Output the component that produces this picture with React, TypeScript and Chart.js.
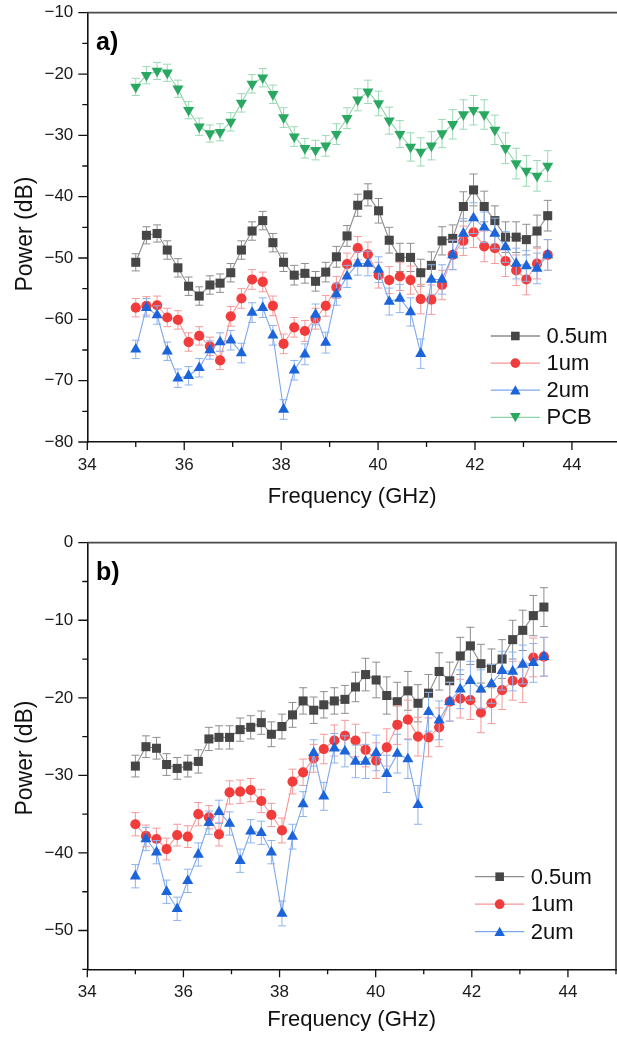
import React, { useEffect, useRef } from 'react';
import { Chart, registerables } from 'chart.js';

Chart.register(...registerables);

// ---------------- data ----------------
const FREQ = [35.0, 35.22, 35.44, 35.65, 35.87, 36.09, 36.31, 36.53, 36.74, 36.96, 37.18, 37.4, 37.62, 37.83, 38.05, 38.27, 38.49, 38.71, 38.92, 39.14, 39.36, 39.58, 39.79, 40.01, 40.23, 40.45, 40.67, 40.88, 41.1, 41.32, 41.54, 41.76, 41.97, 42.19, 42.41, 42.63, 42.85, 43.06, 43.28, 43.5];

const X_TICKS = [34, 35, 36, 37, 38, 39, 40, 41, 42, 43, 44, 45];

// panel a)
const A_05UM = [-50.7, -46.3, -46.0, -48.7, -51.6, -54.6, -56.2, -54.4, -54.1, -52.4, -48.7, -45.6, -43.9, -47.5, -50.7, -52.8, -52.5, -53.8, -52.3, -49.8, -46.4, -41.4, -39.7, -42.3, -47.1, -49.9, -49.9, -52.4, -51.2, -47.2, -46.8, -41.6, -38.9, -41.6, -43.9, -46.6, -46.6, -47.0, -45.6, -43.1];
const A_05UM_ERR = [1.4, 1.4, 1.4, 1.5, 1.5, 1.5, 1.5, 1.5, 1.5, 1.5, 1.5, 1.5, 1.5, 1.5, 1.5, 1.6, 1.6, 1.6, 1.6, 1.7, 1.7, 1.8, 1.8, 2.0, 2.1, 2.3, 2.3, 2.2, 2.2, 2.3, 2.2, 2.4, 2.6, 2.5, 2.4, 2.5, 2.5, 2.5, 2.6, 2.5];
const A_1UM = [-58.1, -57.8, -57.7, -59.7, -60.1, -63.7, -62.7, -64.4, -66.7, -59.5, -56.6, -53.5, -53.9, -57.8, -64.0, -61.3, -61.9, -59.9, -57.8, -54.8, -51.0, -48.4, -49.4, -52.8, -53.6, -53.0, -53.6, -56.7, -56.8, -54.4, -49.5, -47.2, -45.8, -48.1, -48.4, -50.5, -52.0, -53.5, -50.9, -49.5];
const A_1UM_ERR = [1.5, 1.5, 1.5, 1.5, 1.5, 1.5, 1.5, 1.5, 1.5, 1.6, 1.6, 1.6, 1.6, 1.6, 1.6, 1.6, 1.7, 1.7, 1.7, 1.8, 1.8, 1.9, 2.0, 2.1, 2.2, 2.3, 2.3, 2.4, 2.4, 2.4, 2.4, 2.4, 2.5, 2.5, 2.5, 2.5, 2.5, 2.5, 2.5, 2.5];
const A_2UM = [-64.9, -58.1, -59.3, -65.2, -69.6, -69.2, -67.9, -65.0, -63.7, -63.4, -65.5, -58.9, -58.1, -62.6, -74.7, -68.3, -65.7, -59.2, -63.8, -55.9, -53.0, -50.9, -50.9, -51.9, -57.1, -56.6, -58.8, -65.6, -53.5, -53.5, -49.5, -46.0, -43.5, -45.0, -46.0, -48.2, -50.9, -51.3, -51.7, -49.5];
const A_2UM_ERR = [1.5, 1.5, 1.5, 1.5, 1.5, 1.5, 1.5, 1.5, 1.5, 1.6, 1.6, 1.6, 1.6, 1.6, 1.6, 1.6, 1.7, 1.7, 1.7, 1.8, 1.8, 1.9, 2.0, 2.1, 2.2, 2.3, 2.3, 2.4, 2.4, 2.4, 2.4, 2.4, 2.5, 2.5, 2.5, 2.5, 2.5, 2.5, 2.5, 2.5];
const A_PCB = [-22.1, -20.2, -19.5, -19.8, -22.4, -25.9, -28.6, -29.7, -29.5, -27.8, -24.7, -21.6, -20.6, -23.3, -27.1, -30.2, -32.1, -32.4, -31.7, -29.8, -27.2, -24.2, -22.9, -24.8, -27.6, -29.8, -31.9, -32.7, -31.7, -29.7, -28.2, -26.6, -25.9, -26.6, -29.1, -32.1, -34.6, -35.8, -36.6, -35.0];
const A_PCB_ERR = [1.4, 1.4, 1.4, 1.4, 1.4, 1.4, 1.4, 1.4, 1.4, 1.5, 1.5, 1.5, 1.5, 1.5, 1.6, 1.6, 1.6, 1.6, 1.7, 1.7, 1.7, 1.8, 1.9, 2.0, 2.2, 2.2, 2.3, 2.3, 2.3, 2.3, 2.4, 2.4, 2.4, 2.4, 2.4, 2.5, 2.5, 2.5, 2.5, 2.5];

// panel b)
const B_05UM = [-28.8, -26.3, -26.5, -28.6, -29.1, -28.8, -28.2, -25.3, -25.1, -25.1, -24.1, -23.8, -23.2, -24.7, -23.7, -22.2, -20.4, -21.6, -20.9, -20.4, -20.2, -18.6, -17.0, -17.7, -19.7, -20.5, -19.1, -20.7, -19.4, -16.6, -17.8, -14.6, -13.3, -15.6, -16.2, -15.0, -12.5, -11.3, -9.4, -8.3];
const B_05UM_ERR = [1.4, 1.4, 1.4, 1.4, 1.4, 1.4, 1.5, 1.5, 1.5, 1.5, 1.5, 1.5, 1.5, 1.6, 1.6, 1.6, 1.7, 1.7, 1.7, 1.7, 1.8, 1.9, 2.1, 2.3, 2.4, 2.5, 2.5, 2.4, 2.4, 2.4, 2.4, 2.4, 2.4, 2.5, 2.5, 2.5, 2.5, 2.6, 2.6, 2.5];
const B_1UM = [-36.3, -37.8, -38.2, -39.5, -37.7, -37.9, -35.0, -35.4, -37.6, -32.2, -32.1, -31.9, -33.3, -35.1, -37.1, -30.8, -29.6, -27.8, -26.6, -25.5, -24.9, -25.5, -26.7, -28.1, -26.4, -23.5, -22.8, -25.0, -25.1, -23.8, -20.5, -20.1, -20.3, -21.9, -20.7, -19.0, -17.8, -18.0, -14.8, -14.7];
const B_1UM_ERR = [1.5, 1.4, 1.4, 1.4, 1.4, 1.4, 1.5, 1.5, 1.5, 1.5, 1.5, 1.5, 1.5, 1.5, 1.6, 1.6, 1.7, 1.8, 1.9, 2.0, 2.0, 2.1, 2.2, 2.3, 2.4, 2.5, 2.5, 2.5, 2.5, 2.5, 2.5, 2.5, 2.5, 2.6, 2.6, 2.5, 2.5, 2.6, 2.5, 2.5];
const B_2UM = [-43.0, -38.2, -39.9, -45.0, -47.2, -43.6, -40.2, -36.1, -34.7, -36.2, -41.0, -37.2, -37.4, -39.9, -47.8, -37.9, -33.7, -27.1, -32.7, -26.5, -26.9, -28.2, -28.2, -27.1, -29.8, -27.2, -27.9, -33.8, -21.8, -22.9, -20.5, -18.9, -17.8, -18.9, -18.2, -16.5, -16.6, -15.7, -15.5, -14.7];
const B_2UM_ERR = [1.5, 1.5, 1.5, 1.5, 1.5, 1.5, 1.5, 1.5, 1.5, 1.5, 1.5, 1.5, 1.5, 1.5, 1.6, 1.6, 1.6, 1.7, 1.8, 1.9, 2.0, 2.1, 2.2, 2.3, 2.4, 2.5, 2.5, 2.5, 2.5, 2.5, 2.5, 2.5, 2.5, 2.5, 2.5, 2.5, 2.5, 2.5, 2.5, 2.5];

// ---------------- styles ----------------
const FONT = '"Liberation Sans", Arial, Helvetica, sans-serif';

const STYLE_05 = { label: '0.5um', marker: 'rect', rotation: 0, radius: 6.4, color: '#464646', line: '#8e8e8e', err: '#8e8e8e' };
const STYLE_1 = { label: '1um', marker: 'circle', rotation: 0, radius: 5.1, color: '#f23b3b', line: '#f59797', err: '#f59a9a' };
const STYLE_2 = { label: '2um', marker: 'triangle', rotation: 0, radius: 6.4, color: '#1b64d9', line: '#7ea8ec', err: '#8db3ee' };
const STYLE_PCB = { label: 'PCB', marker: 'triangle', rotation: 180, radius: 6.4, color: '#2aa862', line: '#8fd3aa', err: '#9ad9b4' };

function drawMarker(ctx, style, rotationDeg, x, y, r, color) {
  ctx.save();
  ctx.fillStyle = color;
  ctx.beginPath();
  if (style === 'circle') {
    ctx.arc(x, y, r, 0, Math.PI * 2);
  } else if (style === 'rect') {
    const s = r * Math.SQRT1_2;
    ctx.rect(x - s, y - s, 2 * s, 2 * s);
  } else {
    let rad = (rotationDeg * Math.PI) / 180;
    ctx.moveTo(x + Math.sin(rad) * r, y - Math.cos(rad) * r);
    rad += (2 * Math.PI) / 3;
    ctx.lineTo(x + Math.sin(rad) * r, y - Math.cos(rad) * r);
    rad += (2 * Math.PI) / 3;
    ctx.lineTo(x + Math.sin(rad) * r, y - Math.cos(rad) * r);
    ctx.closePath();
  }
  ctx.fill();
  ctx.restore();
}

function minusLabel(v) {
  if (v === 0) return '0';
  return v < 0 ? '\u2212' + Math.abs(v) : String(v);
}

const ZERO_PAD = () => ({ left: 0, right: 0, top: 0, bottom: 0 });

function buildConfig(p) {
  const datasets = p.series.map((s, i) => ({
    label: s.style.label,
    data: FREQ.map((f, j) => ({ x: f, y: s.values[j] })),
    errors: s.errors,
    errColor: s.style.err,
    borderColor: s.style.line,
    borderWidth: 1.1,
    backgroundColor: s.style.color,
    pointStyle: s.style.marker,
    pointRotation: s.style.rotation,
    pointRadius: s.style.radius,
    pointHoverRadius: s.style.radius,
    pointBackgroundColor: s.style.color,
    pointBorderColor: s.style.color,
    pointBorderWidth: 0,
    tension: 0,
    fill: false,
    clip: false,
    order: p.series.length - i,
  }));

  const panelPlugin = {
    id: 'panelDecor',
    beforeDatasetDraw(chart, args) {
      const ds = chart.data.datasets[args.index];
      const xs = chart.scales.x;
      const ys = chart.scales.y;
      const ctx = chart.ctx;
      ctx.save();
      ctx.strokeStyle = ds.errColor;
      ctx.lineWidth = 1;
      ds.data.forEach((pt, j) => {
        const e = ds.errors[j];
        const px = xs.getPixelForValue(pt.x);
        const y1 = ys.getPixelForValue(pt.y + e);
        const y2 = ys.getPixelForValue(pt.y - e);
        ctx.beginPath();
        ctx.moveTo(px, y1);
        ctx.lineTo(px, y2);
        ctx.moveTo(px - 4, y1);
        ctx.lineTo(px + 4, y1);
        ctx.moveTo(px - 4, y2);
        ctx.lineTo(px + 4, y2);
        ctx.stroke();
      });
      ctx.restore();
    },
    afterDraw(chart) {
      const ctx = chart.ctx;
      const a = chart.chartArea;
      const xs = chart.scales.x;
      const ys = chart.scales.y;
      ctx.save();
      // frame (top / right)
      ctx.strokeStyle = '#4a4a4a';
      ctx.lineWidth = 1.8;
      ctx.beginPath();
      ctx.moveTo(a.left, a.top);
      ctx.lineTo(a.right + 1, a.top);
      if (p.rightFrame) {
        ctx.moveTo(a.right, a.top);
        ctx.lineTo(a.right, a.bottom);
      }
      ctx.stroke();
      // ticks
      ctx.strokeStyle = '#111';
      ctx.lineWidth = 1.3;
      ctx.beginPath();
      X_TICKS.forEach((v) => {
        if (v > p.xMax) return;
        const px = xs.getPixelForValue(v);
        const len = v % 2 === 0 ? 8 : 5;
        ctx.moveTo(px, a.bottom);
        ctx.lineTo(px, a.bottom + len);
      });
      p.yTicks.forEach((v) => {
        const py = ys.getPixelForValue(v);
        const len = v % 10 === 0 ? 9 : 5;
        ctx.moveTo(a.left, py);
        ctx.lineTo(a.left - len, py);
      });
      ctx.stroke();
      // y axis title
      ctx.fillStyle = '#111';
      ctx.font = '23px ' + FONT;
      ctx.textAlign = 'center';
      ctx.textBaseline = 'middle';
      ctx.save();
      ctx.translate(26, p.yTitleY);
      ctx.rotate(-Math.PI / 2);
      ctx.fillText('Power (dB)', 0, 0);
      ctx.restore();
      // panel letter
      ctx.fillStyle = '#000';
      ctx.font = 'bold 25px ' + FONT;
      ctx.textAlign = 'left';
      ctx.textBaseline = 'alphabetic';
      ctx.fillText(p.letter, 96, p.letterY);
      // legend
      ctx.font = '22px ' + FONT;
      ctx.textBaseline = 'middle';
      p.series.forEach((s, i) => {
        const y = p.legend.y0 + i * p.legend.dy;
        ctx.strokeStyle = s.style.line;
        ctx.lineWidth = 1.3;
        ctx.beginPath();
        ctx.moveTo(p.legend.x1, y);
        ctx.lineTo(p.legend.x2, y);
        ctx.stroke();
        const mx = (p.legend.x1 + p.legend.x2) / 2;
        const dy = s.style.marker === 'triangle' ? (s.style.rotation === 180 ? -1.2 : 1.2) : 0;
        drawMarker(ctx, s.style.marker, s.style.rotation, mx, y + dy, s.style.radius * 0.95, s.style.color);
        ctx.fillStyle = '#111';
        ctx.fillText(s.style.label, p.legend.tx, y + 1);
      });
      ctx.restore();
    },
  };

  return {
    type: 'line',
    data: { datasets },
    options: {
      animation: false,
      responsive: false,
      maintainAspectRatio: false,
      devicePixelRatio: 1,
      layout: { autoPadding: false, padding: { top: p.padTop, right: p.padRight, left: 0, bottom: 0 } },
      plugins: { legend: { display: false }, tooltip: { enabled: false } },
      scales: {
        x: {
          type: 'linear',
          min: 34,
          max: p.xMax,
          afterBuildTicks: (s) => {
            s.ticks = X_TICKS.filter((v) => v <= p.xMax).map((v) => ({ value: v }));
          },
          afterFit: (s) => {
            s.height = p.xHeight;
            s.paddingLeft = 0;
            s.paddingRight = 0;
            s.getPadding = ZERO_PAD;
          },
          grid: { display: false, drawTicks: true, tickLength: 13 },
          border: { display: true, color: '#111', width: 1.6 },
          ticks: {
            autoSkip: false,
            maxRotation: 0,
            padding: 0,
            color: '#1a1a1a',
            font: { family: FONT, size: 17 },
            callback: (v) => (Number.isInteger(v) && v % 2 === 0 && v < 45 ? String(v) : ''),
          },
          title: {
            display: true,
            text: 'Frequency (GHz)',
            color: '#111',
            font: { family: FONT, size: 22 },
            padding: { top: 0, bottom: p.xTitlePad },
          },
        },
        y: {
          type: 'linear',
          min: p.yMin,
          max: p.yMax,
          afterFit: (s) => {
            s.width = 87.3;
            s.paddingTop = 0;
            s.paddingBottom = 0;
            s.getPadding = ZERO_PAD;
          },
          grid: { display: false, drawTicks: true, tickLength: 14 },
          border: { display: true, color: '#111', width: 1.6 },
          ticks: {
            stepSize: 5,
            autoSkip: false,
            padding: 0,
            color: '#1a1a1a',
            font: { family: FONT, size: 17 },
            callback: (v) => (v % 10 === 0 ? minusLabel(v) : ''),
          },
          title: { display: false },
        },
      },
    },
    plugins: [panelPlugin],
  };
}

const TOP_Y_TICKS = [-80, -75, -70, -65, -60, -55, -50, -45, -40, -35, -30, -25, -20, -15, -10];
const BOT_Y_TICKS = [-55, -50, -45, -40, -35, -30, -25, -20, -15, -10, -5, 0];

const panelA = {
  series: [
    { style: STYLE_05, values: A_05UM, errors: A_05UM_ERR },
    { style: STYLE_1, values: A_1UM, errors: A_1UM_ERR },
    { style: STYLE_2, values: A_2UM, errors: A_2UM_ERR },
    { style: STYLE_PCB, values: A_PCB, errors: A_PCB_ERR },
  ],
  xMax: 44.93,
  yMin: -80,
  yMax: -10,
  yTicks: TOP_Y_TICKS,
  padTop: 12.7,
  padRight: 0,
  xHeight: 78,
  xTitlePad: 10,
  rightFrame: false,
  letter: 'a)',
  letterY: 49.5,
  yTitleY: 234,
  legend: { y0: 336, dy: 27.1, x1: 490.7, x2: 540, tx: 546.5 },
};

const panelB = {
  series: [
    { style: STYLE_05, values: B_05UM, errors: B_05UM_ERR },
    { style: STYLE_1, values: B_1UM, errors: B_1UM_ERR },
    { style: STYLE_2, values: B_2UM, errors: B_2UM_ERR },
  ],
  xMax: 45,
  yMin: -55,
  yMax: 0,
  yTicks: BOT_Y_TICKS,
  padTop: 22.7,
  padRight: 1,
  xHeight: 72.7,
  xTitlePad: 9,
  rightFrame: true,
  letter: 'b)',
  letterY: 60,
  yTitleY: 238,
  legend: { y0: 356.7, dy: 27.5, x1: 475, x2: 524.3, tx: 530.7 },
};

function ChartCanvas({ panel, top, width, height }) {
  const ref = useRef(null);
  useEffect(() => {
    const chart = new Chart(ref.current, buildConfig(panel));
    return () => chart.destroy();
  }, []);
  return (
    <canvas
      ref={ref}
      width={width}
      height={height}
      style={{ position: 'absolute', left: 0, top, width, height, display: 'block' }}
    />
  );
}

export default function App() {
  return (
    <div style={{ position: 'absolute', left: 0, top: 0, width: 617, height: 1042, background: '#fff', overflow: 'hidden' }}>
      <ChartCanvas panel={panelA} top={0} width={617} height={520} />
      <ChartCanvas panel={panelB} top={520} width={617} height={522} />
    </div>
  );
}
